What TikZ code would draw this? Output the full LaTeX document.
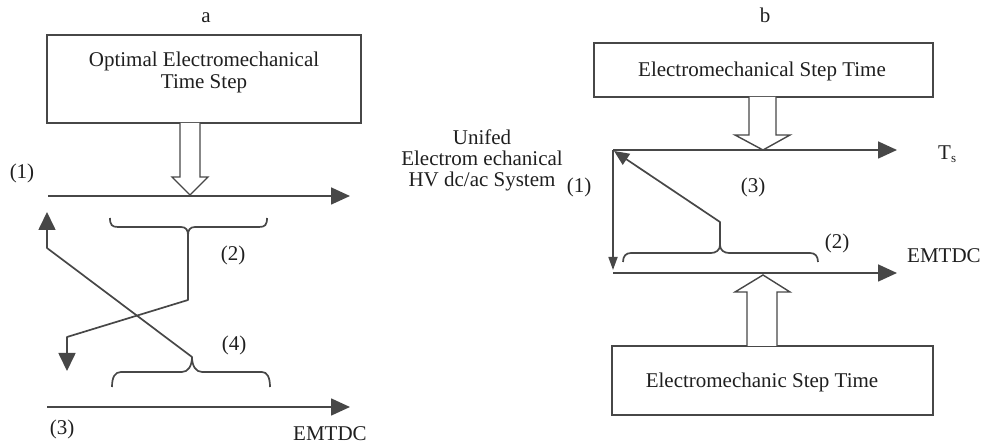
\documentclass[tikz,border=0pt]{standalone}
\usepackage{fontspec}
\setmainfont{Liberation Serif}
\usetikzlibrary{arrows.meta}
\newcommand\figfont{\fontsize{21}{22}\selectfont}
\tikzset{
  ln/.style={line width=1.7pt, draw=black!72, line join=round},
  arr/.style={ln, -{Triangle[length=19pt,width=17pt]}},
  boxst/.style={draw=black!72, line width=1.6pt, rectangle, inner sep=0pt, fill=white},
  hollow/.style={draw=black!72, line width=1.4pt, fill=white, line join=miter},
  lbl/.style={inner sep=0pt, anchor=base, font=\figfont, text=black!88},
}
\begin{document}
\begin{tikzpicture}[x=1pt,y=-1pt]
\useasboundingbox (0,0) rectangle (983,446);
% ---------------- panel a ----------------
\node[lbl] (la) at (206,23) {a};
\node[boxst, minimum width=314pt, minimum height=88pt] (boxA) at (204,79) {};
\node[lbl] (tA1) at (204,67) {Optimal Electromechanical};
\node[lbl] (tA2) at (204,89) {Time Step};
% hollow arrow down
\draw[hollow] (180,123) -- (180,177) -- (172,177) -- (190,195) -- (208,177) -- (200,177) -- (200,123);
% line (1)
\coordinate (a1s) at (48,196);
\coordinate (a1e) at (350,196);
\draw[arr] (a1s) -- (a1e);
\node[lbl] (n1a) at (22,179) {(1)};
% brace (2)
\coordinate (c2) at (188,235);
\draw[ln] (110,218) .. controls (110,225) and (112,227) .. (118,227) -- (181,227)
  .. controls (186,227) and (188,230) .. (c2)
  .. controls (188,230) and (190,227) .. (195,227) -- (259,227)
  .. controls (265,227) and (267,225) .. (267,218);
\coordinate (d2) at (67,371);
\draw[ln, -{Triangle[length=18pt,width=17pt]}] (c2) -- (188,300) -- (67,337) -- (d2);
\node[lbl] (n2a) at (233,261) {(2)};
% brace (4)
\coordinate (c4) at (192,357);
\draw[ln] (112,387) .. controls (112,377) and (115,372) .. (121,372) -- (182,372)
  .. controls (188,372) and (192,366) .. (c4)
  .. controls (192,366) and (196,372) .. (202,372) -- (262,372)
  .. controls (267,372) and (270,377) .. (270,387);
\coordinate (u4) at (47,212);
\draw[ln, -{Triangle[length=18pt,width=17pt]}] (c4) -- (47,248) -- (u4);
\node[lbl] (n4a) at (234,351) {(4)};
% line (3) EMTDC
\coordinate (a3s) at (47,407);
\coordinate (a3e) at (350,407);
\draw[arr] (a3s) -- (a3e);
\node[lbl] (n3a) at (62,434) {(3)};
\node[lbl, anchor=base west] (ema) at (293,440) {EMTDC};
% ---------------- panel b ----------------
\node[lbl] (lb) at (765,23) {b};
\node[boxst, minimum width=339pt, minimum height=54pt] (boxB1) at (763.5,70) {};
\node[lbl] (tB1) at (762,77) {Electromechanical Step Time};
\draw[hollow] (749,97) -- (749,135) -- (735,135) -- (763,150) -- (790,135) -- (776,135) -- (776,97);
\node[lbl] (u1) at (482,145) {Unifed};
\node[lbl] (u2) at (482,166) {Electrom echanical};
\node[lbl] (u3) at (482,187) {HV dc/ac System};
\node[lbl] (n1b) at (579,193) {(1)};
\node[lbl] (n3b) at (753,193) {(3)};
\coordinate (tl) at (613,150);
\coordinate (bl) at (613,273);
\coordinate (tse) at (897,150);
\coordinate (eme) at (897,273);
\draw[arr] (tl) -- (tse);
\draw[arr] (bl) -- (eme);
\draw[ln, -{Triangle[length=13pt,width=9pt]}] (tl) -- (613,270);
\node[lbl, anchor=base west] (ts) at (938,160) {T\raisebox{-3pt}{\fontsize{13}{13}\selectfont s}};
% brace (2) b
\coordinate (cb) at (720,245);
\draw[ln] (623,262) .. controls (623,256) and (626,253) .. (631,253) -- (711,253)
  .. controls (716,253) and (720,250) .. (cb)
  .. controls (720,250) and (724,253) .. (729,253) -- (810,253)
  .. controls (815,253) and (818,256) .. (818,262);
\draw[ln, -{Triangle[length=15pt,width=13pt]}] (cb) -- (720,222) -- (614,151);
\node[lbl] (n2b) at (837,249) {(2)};
\node[lbl, anchor=base west] (emb) at (907,263) {EMTDC};
% bottom box and hollow arrow up
\node[boxst, minimum width=321pt, minimum height=69pt] (boxB2) at (772.5,380.5) {};
\node[lbl] (tB2) at (762,388) {Electromechanic Step Time};
\draw[hollow] (747,346) -- (747,292) -- (735,292) -- (763,275) -- (790,292) -- (777,292) -- (777,346);
\end{tikzpicture}
\end{document}
